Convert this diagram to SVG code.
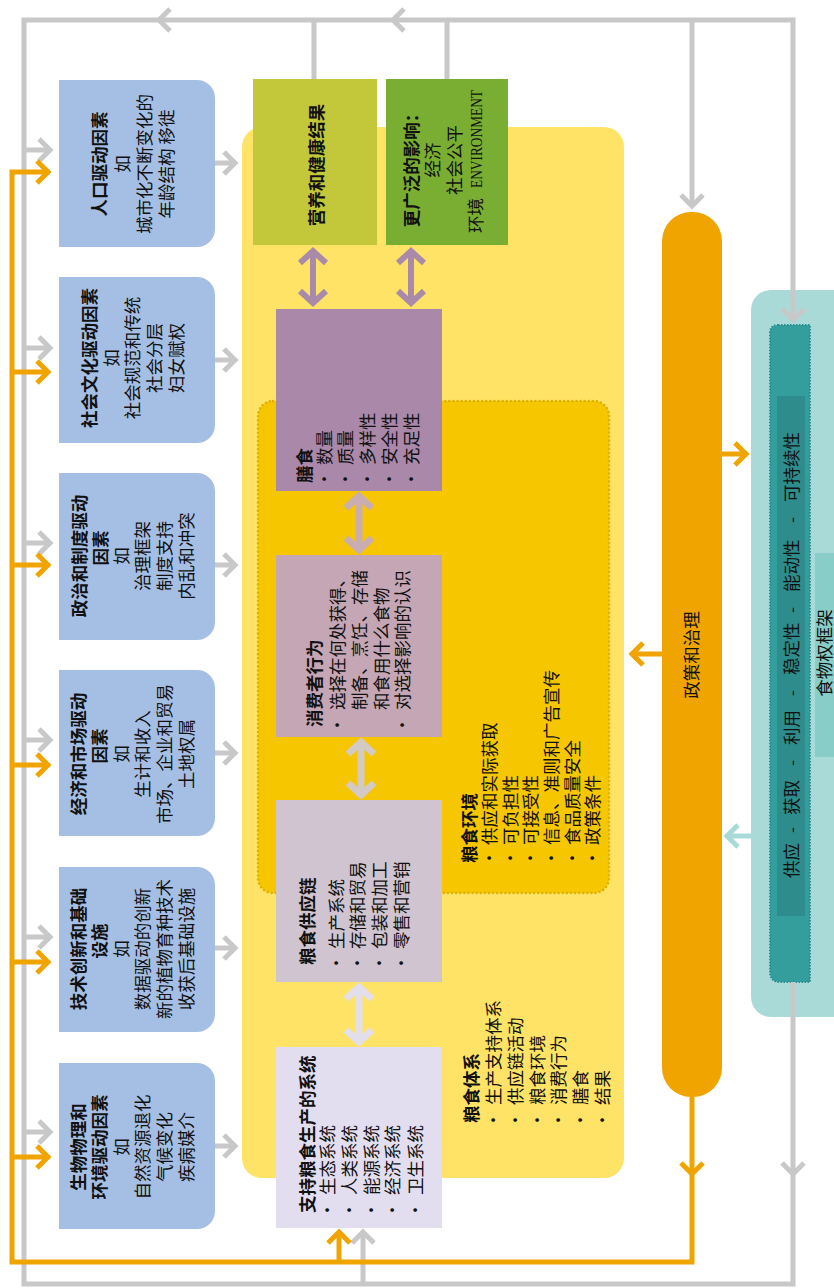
<svg xmlns="http://www.w3.org/2000/svg" width="834" height="1288" viewBox="0 0 834 1288">
<defs>
<style>
.t{font-family:"Noto Sans CJK SC","Noto Sans",sans-serif;font-size:17.5px;fill:#111}
.b{font-weight:bold}
.m{text-anchor:middle}
.drv{fill:#A5BFE4}
.g{fill:none;stroke:#C8C8C8;stroke-width:5}
.o{fill:none;stroke:#F0A400;stroke-width:5}
</style>
<path id="ch" d="M-11,-11 L0,0 L-11,11" fill="none"/>
<path id="ch2" d="M-12,-13 L0,0 L-12,13" fill="none"/>
</defs>
<rect x="0" y="0" width="834" height="1288" fill="#FFFFFF"/>

<g id="food-system-area">
<rect x="242" y="127" width="382" height="1051" rx="20" fill="#FFE366"/>
</g>
<g id="food-environment-area">
<rect x="258" y="401" width="351" height="492" rx="15" fill="#F6C600" stroke="#E0B000" stroke-width="2.5" stroke-dasharray="0.1 4" stroke-linecap="round"/>
</g>

<g id="driver-population">
<path class="drv" d="M59,80 H197 A18,18 0 0 1 215,98 V229 A18,18 0 0 1 197,247 H59 Z"/>
<g class="t m" transform="translate(0,164) rotate(-90)">
<text class="b" x="0" y="106">人口驱动因素</text>
<text x="0" y="129">如</text>
<text x="0" y="151">城市化不断变化的</text>
<text x="0" y="173">年龄结构 移徙</text>
</g>
</g>
<g id="driver-sociocultural">
<path class="drv" d="M59,277 H197 A18,18 0 0 1 215,295 V425 A18,18 0 0 1 197,443 H59 Z"/>
<g class="t m" transform="translate(0,358) rotate(-90)">
<text class="b" x="0" y="96">社会文化驱动因素</text>
<text x="0" y="118">如</text>
<text x="0" y="139">社会规范和传统</text>
<text x="0" y="161">社会分层</text>
<text x="0" y="183">妇女赋权</text>
</g>
</g>
<g id="driver-political">
<path class="drv" d="M59,473 H197 A18,18 0 0 1 215,491 V622 A18,18 0 0 1 197,640 H59 Z"/>
<g class="t m" transform="translate(0,556) rotate(-90)">
<text class="b" x="0" y="86">政治和制度驱动</text>
<text class="b" x="8" y="107">因素</text>
<text x="0" y="128">如</text>
<text x="0" y="149">治理框架</text>
<text x="0" y="171">制度支持</text>
<text x="0" y="193">内乱和冲突</text>
</g>
</g>
<g id="driver-economic">
<path class="drv" d="M59,670 H197 A18,18 0 0 1 215,688 V818 A18,18 0 0 1 197,836 H59 Z"/>
<g class="t m" transform="translate(0,754) rotate(-90)">
<text class="b" x="0" y="85">经济和市场驱动</text>
<text class="b" x="8" y="106">因素</text>
<text x="0" y="128">如</text>
<text x="0" y="149">生计和收入</text>
<text x="0" y="171">市场、企业和贸易</text>
<text x="0" y="193">土地权属</text>
</g>
</g>
<g id="driver-technology">
<path class="drv" d="M59,867 H197 A18,18 0 0 1 215,885 V1014 A18,18 0 0 1 197,1032 H59 Z"/>
<g class="t m" transform="translate(0,949) rotate(-90)">
<text class="b" x="0" y="85">技术创新和基础</text>
<text class="b" x="8" y="106">设施</text>
<text x="0" y="128">如</text>
<text x="0" y="149">数据驱动的创新</text>
<text x="0" y="171">新的植物育种技术</text>
<text x="0" y="193">收获后基础设施</text>
</g>
</g>
<g id="driver-biophysical">
<path class="drv" d="M59,1063 H197 A18,18 0 0 1 215,1081 V1211 A18,18 0 0 1 197,1229 H59 Z"/>
<g class="t m" transform="translate(0,1147) rotate(-90)">
<text class="b" x="0" y="85">生物物理和</text>
<text class="b" x="0" y="106">环境驱动因素</text>
<text x="0" y="128">如</text>
<text x="0" y="149">自然资源退化</text>
<text x="0" y="171">气候变化</text>
<text x="0" y="193">疾病媒介</text>
</g>
</g>

<g id="nutrition-outcomes">
<rect x="253" y="79" width="124" height="166" fill="#C2C83A"/>
<text class="t b m" transform="translate(0,165) rotate(-90)" x="0" y="323">营养和健康结果</text>
</g>
<g id="wider-impacts">
<rect x="386" y="79" width="122" height="166" fill="#7AAE32"/>
<g class="t" transform="rotate(-90)">
<text class="b m" x="-166" y="418">更广泛的影响：</text>
<text class="m" x="-160" y="439">经济</text>
<text class="m" x="-160" y="461">社会公平</text>
<text x="-233" y="482">环境</text>
<text x="-188" y="482" style="font-family:'Liberation Serif',serif" textLength="98" lengthAdjust="spacingAndGlyphs">ENVIRONMENT</text>
</g>
</g>

<g id="diets">
<rect x="276" y="309" width="166" height="182" fill="#AA88AA"/>
<g class="t" transform="rotate(-90)">
<text class="b" x="-483" y="311">膳食</text>
<text class="m" x="-479" y="331">•</text><text x="-465" y="331">数量</text>
<text class="m" x="-479" y="352">•</text><text x="-465" y="352">质量</text>
<text class="m" x="-479" y="374">•</text><text x="-465" y="374">多样性</text>
<text class="m" x="-479" y="396">•</text><text x="-465" y="396">安全性</text>
<text class="m" x="-479" y="418">•</text><text x="-465" y="418">充足性</text>
</g>
</g>
<g id="consumer-behaviour">
<rect x="276" y="555" width="166" height="182" fill="#C5A6B4"/>
<g class="t" transform="rotate(-90)">
<text class="b" x="-727" y="321">消费者行为</text>
<text class="m" x="-725" y="344">•</text><text x="-710" y="344">选择在何处获得、</text>
<text x="-710" y="366">制备、烹饪、存储</text>
<text x="-710" y="388">和食用什么食物</text>
<text class="m" x="-725" y="409">•</text><text x="-710" y="409">对选择影响的认识</text>
</g>
</g>
<g id="food-supply-chain">
<rect x="276" y="800" width="166" height="182" fill="#CFC4D0"/>
<g class="t" transform="rotate(-90)">
<text class="b" x="-965" y="314">粮食供应链</text>
<text class="m" x="-963" y="343">•</text><text x="-949" y="343">生产系统</text>
<text class="m" x="-963" y="364">•</text><text x="-949" y="364">存储和贸易</text>
<text class="m" x="-963" y="386">•</text><text x="-949" y="386">包装和加工</text>
<text class="m" x="-963" y="408">•</text><text x="-949" y="408">零售和营销</text>
</g>
</g>
<g id="support-systems">
<rect x="276" y="1047" width="166" height="181" fill="#E2DEF0"/>
<g class="t" transform="rotate(-90)">
<text class="b" x="-1213" y="314">支持粮食生产的系统</text>
<text class="m" x="-1210" y="334">•</text><text x="-1195" y="334">生态系统</text>
<text class="m" x="-1210" y="356">•</text><text x="-1195" y="356">人类系统</text>
<text class="m" x="-1210" y="378">•</text><text x="-1195" y="378">能源系统</text>
<text class="m" x="-1210" y="399">•</text><text x="-1195" y="399">经济系统</text>
<text class="m" x="-1210" y="422">•</text><text x="-1195" y="422">卫生系统</text>
</g>
</g>

<g id="food-environment-label">
<g class="t" transform="rotate(-90)">
<text class="b" x="-863" y="476">粮食环境</text>
<text class="m" x="-858" y="496">•</text><text x="-845" y="496">供应和实际获取</text>
<text class="m" x="-858" y="517">•</text><text x="-845" y="517">可负担性</text>
<text class="m" x="-858" y="537">•</text><text x="-845" y="537">可接受性</text>
<text class="m" x="-858" y="558">•</text><text x="-845" y="558">信息、准则和广告宣传</text>
<text class="m" x="-858" y="579">•</text><text x="-845" y="579">食品质量安全</text>
<text class="m" x="-858" y="599">•</text><text x="-845" y="599">政策条件</text>
</g>
</g>
<g id="food-system-label">
<g class="t" transform="rotate(-90)">
<text class="b" x="-1123" y="478">粮食体系</text>
<text class="m" x="-1120" y="500">•</text><text x="-1105" y="500">生产支持体系</text>
<text class="m" x="-1120" y="522">•</text><text x="-1105" y="522">供应链活动</text>
<text class="m" x="-1120" y="544">•</text><text x="-1105" y="544">粮食环境</text>
<text class="m" x="-1120" y="565">•</text><text x="-1105" y="565">消费行为</text>
<text class="m" x="-1120" y="587">•</text><text x="-1105" y="587">膳食</text>
<text class="m" x="-1120" y="609">•</text><text x="-1105" y="609">结果</text>
</g>
</g>

<g id="policy-governance">
<rect x="662" y="212" width="60" height="885" rx="29" fill="#F0A400"/>
<text class="t m" transform="translate(0,655) rotate(-90)" x="0" y="698">政策和治理</text>
</g>

<g id="food-security-frame">
<rect x="751" y="290" width="120" height="727" rx="20" fill="#AADAD8"/>
<path d="M778,325 H810 V982 H780 Q770,982 770,972 V333 Q770,325 778,325 Z" fill="#349E9D" stroke="#2A8F8E" stroke-width="2" stroke-dasharray="1.5 1.5"/>
<rect x="777" y="396" width="28" height="520" fill="#2E8D8C"/>
<g class="t" transform="rotate(-90)">
<text x="-878" y="798">供应</text>
<text x="-833" y="798">-</text>
<text x="-815" y="798">获取</text>
<text x="-766" y="798">-</text>
<text x="-745" y="798">利用</text>
<text x="-696" y="798">-</text>
<text x="-675" y="798">稳定性</text>
<text x="-613" y="798">-</text>
<text x="-592" y="798">能动性</text>
<text x="-523" y="798">-</text>
<text x="-502" y="798">可持续性</text>
</g>
<rect x="815" y="553" width="30" height="204" fill="#88CDC8"/>
<text class="t m" transform="translate(0,653) rotate(-90)" x="0" y="831">食物权框架</text>
</g>

<g id="connectors">
<path class="g" d="M793,320 V20 H24 V1284 H793 V982"/>
<path class="g" d="M314,79 V20 M447,79 V20 M692,20 V206"/>
<path class="g" d="M24,150 H50 M24,348 H50 M24,543 H50 M24,740 H50 M24,937 H50 M24,1132 H50"/>
<path class="g" d="M215,163 H235 M215,360 H235 M215,565 H235 M215,753 H235 M215,948 H235 M215,1146 H235"/>
<path class="g" d="M363,1284 V1232"/>
<g stroke="#C8C8C8" stroke-width="5">
<use href="#ch" transform="translate(159,20) rotate(180)"/>
<use href="#ch" transform="translate(393,20) rotate(180)"/>
<use href="#ch" transform="translate(692,206) rotate(90)"/>
<use href="#ch" transform="translate(793,320) rotate(90)"/>
<use href="#ch" transform="translate(793,1174) rotate(90)"/>
<use href="#ch" transform="translate(50,150)"/>
<use href="#ch" transform="translate(50,348)"/>
<use href="#ch" transform="translate(50,543)"/>
<use href="#ch" transform="translate(50,740)"/>
<use href="#ch" transform="translate(50,937)"/>
<use href="#ch" transform="translate(50,1132)"/>
<use href="#ch" transform="translate(235,163)"/>
<use href="#ch" transform="translate(235,360)"/>
<use href="#ch" transform="translate(235,565)"/>
<use href="#ch" transform="translate(235,753)"/>
<use href="#ch" transform="translate(235,948)"/>
<use href="#ch" transform="translate(235,1146)"/>
<use href="#ch" transform="translate(363,1232) rotate(-90)"/>
</g>
<path class="o" d="M50,172 H12 V1262 H692 V1097"/>
<path class="o" d="M12,372 H48 M12,565 H48 M12,765 H48 M12,962 H48 M12,1157 H48"/>
<path class="o" d="M339,1262 V1232 M722,454 H746 M662,654 H632"/>
<g stroke="#F0A400" stroke-width="5">
<use href="#ch" transform="translate(48,172)"/>
<use href="#ch" transform="translate(48,372)"/>
<use href="#ch" transform="translate(48,565)"/>
<use href="#ch" transform="translate(48,765)"/>
<use href="#ch" transform="translate(48,962)"/>
<use href="#ch" transform="translate(48,1157)"/>
<use href="#ch" transform="translate(339,1232) rotate(-90)"/>
<use href="#ch" transform="translate(692,1174) rotate(90)"/>
<use href="#ch" transform="translate(746,454)"/>
<use href="#ch" transform="translate(632,654) rotate(180)"/>
</g>
<path d="M751,836 H727" fill="none" stroke="#AADAD8" stroke-width="5"/>
<use href="#ch" transform="translate(727,836) rotate(180)" stroke="#AADAD8" stroke-width="5"/>
<g fill="none" stroke="#A98AA8" stroke-width="6">
<path d="M313,252 V302 M411,252 V302"/>
<use href="#ch2" transform="translate(313,251) rotate(-90)"/>
<use href="#ch2" transform="translate(313,303) rotate(90)"/>
<use href="#ch2" transform="translate(411,251) rotate(-90)"/>
<use href="#ch2" transform="translate(411,303) rotate(90)"/>
</g>
<g fill="none" stroke="#C8AEB2" stroke-width="7">
<path d="M359,497 V549"/>
<use href="#ch2" transform="translate(359,496) rotate(-90)"/>
<use href="#ch2" transform="translate(359,550) rotate(90)"/>
</g>
<g fill="none" stroke="#D3C9C5" stroke-width="7">
<path d="M361,743 V794"/>
<use href="#ch2" transform="translate(361,742) rotate(-90)"/>
<use href="#ch2" transform="translate(361,795) rotate(90)"/>
</g>
<g fill="none" stroke="#E2DEEB" stroke-width="7">
<path d="M359,988 V1041"/>
<use href="#ch2" transform="translate(359,987) rotate(-90)"/>
<use href="#ch2" transform="translate(359,1042) rotate(90)"/>
</g>
</g>
</svg>
